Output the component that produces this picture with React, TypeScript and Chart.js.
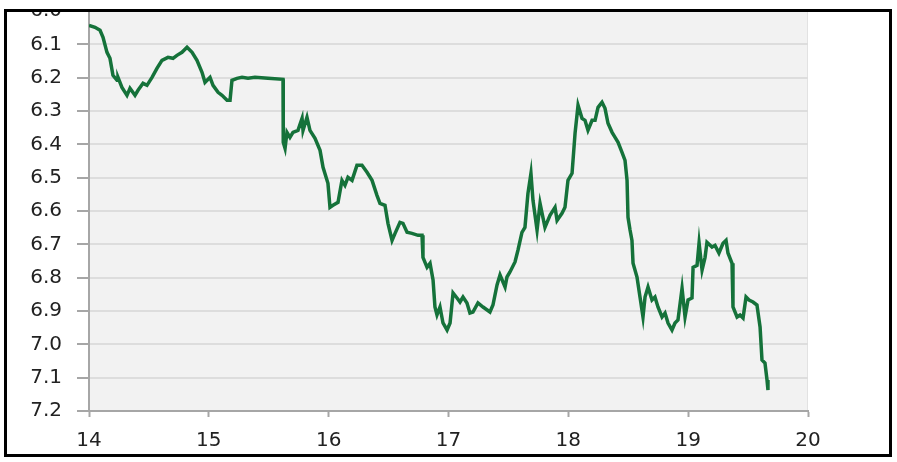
import React, { useEffect, useRef } from "react";
import { Chart, registerables } from "chart.js";

Chart.register(...registerables);

const xValues = [
  14.0, 14.05, 14.092, 14.117, 14.15, 14.175, 14.2, 14.234, 14.242, 14.275,
  14.317, 14.342, 14.384, 14.409, 14.451, 14.484, 14.526, 14.567, 14.609, 14.659,
  14.701, 14.734, 14.776, 14.818, 14.86, 14.901, 14.943, 14.968, 15.01, 15.035,
  15.077, 15.11, 15.152, 15.177, 15.193, 15.235, 15.277, 15.327, 15.385, 15.494,
  15.619, 15.621, 15.636, 15.652, 15.677, 15.702, 15.744, 15.778, 15.786, 15.819,
  15.844, 15.886, 15.928, 15.953, 15.994, 16.011, 16.036, 16.078, 16.111, 16.136,
  16.161, 16.195, 16.236, 16.278, 16.32, 16.362, 16.403, 16.428, 16.47, 16.495,
  16.529, 16.554, 16.595, 16.62, 16.654, 16.695, 16.746, 16.779, 16.787, 16.821,
  16.846, 16.871, 16.887, 16.904, 16.929, 16.954, 16.988, 17.013, 17.038, 17.071,
  17.096, 17.121, 17.154, 17.179, 17.204, 17.246, 17.288, 17.346, 17.371, 17.405,
  17.43, 17.472, 17.488, 17.513, 17.555, 17.58, 17.613, 17.638, 17.663, 17.688,
  17.705, 17.739, 17.764, 17.805, 17.847, 17.889, 17.906, 17.947, 17.972, 17.997,
  18.031, 18.056, 18.081, 18.114, 18.139, 18.164, 18.198, 18.223, 18.248, 18.281,
  18.306, 18.331, 18.365, 18.39, 18.415, 18.448, 18.473, 18.49, 18.498, 18.515,
  18.531, 18.54, 18.573, 18.598, 18.623, 18.64, 18.665, 18.698, 18.723, 18.748,
  18.782, 18.807, 18.832, 18.865, 18.89, 18.915, 18.949, 18.974, 18.999, 19.032,
  19.041, 19.074, 19.091, 19.116, 19.141, 19.157, 19.199, 19.224, 19.257, 19.291,
  19.316, 19.332, 19.366, 19.374, 19.408, 19.433, 19.458, 19.483, 19.508, 19.541,
  19.574, 19.6, 19.616, 19.641, 19.658, 19.666,
];

const yValues = [
  6.043, 6.049, 6.058, 6.079, 6.124, 6.142, 6.193, 6.208, 6.199, 6.229,
  6.253, 6.232, 6.253, 6.238, 6.217, 6.223, 6.199, 6.172, 6.148, 6.139,
  6.142, 6.133, 6.124, 6.109, 6.124, 6.148, 6.184, 6.214, 6.199, 6.223,
  6.244, 6.253, 6.268, 6.268, 6.208, 6.202, 6.199, 6.202, 6.199, 6.202,
  6.205, 6.394, 6.412, 6.364, 6.379, 6.364, 6.358, 6.322, 6.358, 6.319,
  6.358, 6.382, 6.418, 6.469, 6.517, 6.589, 6.583, 6.574, 6.508, 6.523,
  6.499, 6.508, 6.463, 6.463, 6.484, 6.508, 6.553, 6.577, 6.583, 6.637,
  6.688, 6.667, 6.634, 6.637, 6.664, 6.667, 6.673, 6.673, 6.739, 6.769,
  6.757, 6.807, 6.888, 6.912, 6.888, 6.936, 6.957, 6.936, 6.846, 6.861,
  6.873, 6.858, 6.876, 6.906, 6.903, 6.876, 6.888, 6.903, 6.882, 6.822,
  6.792, 6.828, 6.798, 6.783, 6.753, 6.717, 6.664, 6.649, 6.547, 6.487,
  6.568, 6.657, 6.577, 6.649, 6.613, 6.589, 6.628, 6.607, 6.589, 6.508,
  6.487, 6.367, 6.283, 6.322, 6.328, 6.358, 6.328, 6.328, 6.289, 6.274,
  6.292, 6.337, 6.364, 6.379, 6.394, 6.424, 6.448, 6.508, 6.619, 6.657,
  6.688, 6.757, 6.798, 6.858, 6.918, 6.858, 6.828, 6.867, 6.858, 6.888,
  6.918, 6.906, 6.936, 6.957, 6.936, 6.927, 6.832, 6.918, 6.867, 6.861,
  6.769, 6.763, 6.696, 6.777, 6.739, 6.694, 6.708, 6.703, 6.726, 6.697,
  6.688, 6.726, 6.757, 6.888, 6.918, 6.912, 6.921, 6.858, 6.867, 6.873,
  6.882, 6.948, 7.047, 7.056, 7.107, 7.137,
];

const xTickValues = [14, 15, 16, 17, 18, 19, 20];
const yTickValues = [6.0, 6.1, 6.2, 6.3, 6.4, 6.5, 6.6, 6.7, 6.8, 6.9, 7.0, 7.1, 7.2];

const LINE_COLOR = "#15723a";
const TEXT_COLOR = "#222222";
const AXIS_COLOR = "#a6a6a6";
const GRID_COLOR = "#dddddd";
const PLOT_BG = "#f2f2f2";
const FONT = { family: "'DejaVu Sans', 'Liberation Sans', Arial, sans-serif", size: 20 };

export default function App() {
  const ref = useRef<HTMLCanvasElement | null>(null);

  useEffect(() => {
    if (!ref.current) return;
    const bgPlugin = {
      id: "plotBg",
      beforeDraw(chart: any) {
        const { ctx, chartArea: a } = chart;
        ctx.save();
        ctx.fillStyle = PLOT_BG;
        ctx.fillRect(a.left, a.top, a.right - a.left, a.bottom - a.top);
        ctx.strokeStyle = "#e2e2e2";
        ctx.lineWidth = 1;
        ctx.beginPath();
        ctx.moveTo(a.right - 0.5, a.top);
        ctx.lineTo(a.right - 0.5, a.bottom);
        ctx.stroke();
        ctx.restore();
      },
    };

    const chart = new Chart(ref.current, {
      type: "line",
      data: {
        datasets: [
          {
            data: xValues.map((x, i) => ({ x, y: yValues[i] })),
            borderColor: LINE_COLOR,
            borderWidth: 3.5,
            pointRadius: 0,
            tension: 0,
            fill: false,
          },
        ],
      },
      options: {
        animation: false,
        responsive: false,
        events: [],
        layout: { padding: { left: 0, right: 89, top: 31, bottom: 0 } },
        plugins: { legend: { display: false }, tooltip: { enabled: false } },
        scales: {
          x: {
            type: "linear",
            min: 14,
            max: 20,
            afterBuildTicks: (s: any) => {
              s.ticks = xTickValues.map((v) => ({ value: v }));
            },
            afterFit: (s: any) => {
              s.height = 49;
            },
            grid: {
              drawOnChartArea: false,
              drawTicks: true,
              tickLength: 6,
              tickColor: AXIS_COLOR,
              tickWidth: 2,
            },
            border: { color: AXIS_COLOR, width: 2 },
            ticks: {
              padding: 12,
              font: FONT,
              color: TEXT_COLOR,
              maxRotation: 0,
              autoSkip: false,
              callback: (v: any) => String(v),
            },
          },
          y: {
            type: "linear",
            reverse: true,
            min: 6.0,
            max: 7.2,
            afterBuildTicks: (s: any) => {
              s.ticks = yTickValues.map((v) => ({ value: v }));
            },
            afterFit: (s: any) => {
              s.width = 89;
            },
            grid: {
              color: GRID_COLOR,
              lineWidth: 2,
              tickLength: 12,
              tickColor: AXIS_COLOR,
              tickWidth: 2,
            },
            border: { color: AXIS_COLOR, width: 2 },
            ticks: {
              padding: 15,
              font: FONT,
              color: TEXT_COLOR,
              autoSkip: false,
              callback: (v: any) => Number(v).toFixed(1),
            },
          },
        },
      },
      plugins: [bgPlugin],
    } as any);

    return () => chart.destroy();
  }, []);

  return (
    <div style={{ position: "fixed", left: 0, top: 0, width: 897, height: 462, background: "#fff" }}>
      <div
        style={{
          position: "absolute",
          left: 4,
          top: 9,
          width: 888,
          height: 448,
          border: "3px solid #000",
          boxSizing: "border-box",
          overflow: "hidden",
          background: "#fff",
        }}
      >
        <canvas
          ref={ref}
          width={897}
          height={480}
          style={{ position: "absolute", left: -7, top: -32, width: 897, height: 480 }}
        />
      </div>
    </div>
  );
}
